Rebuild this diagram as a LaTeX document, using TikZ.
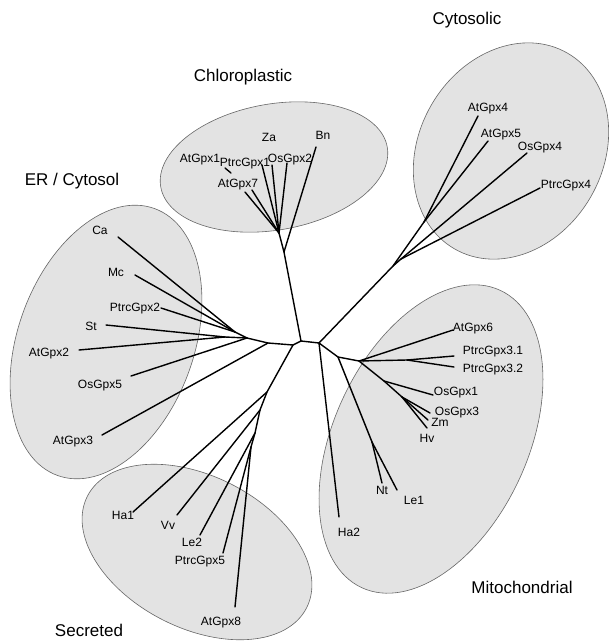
\documentclass[tikz,border=0pt]{standalone}
\usepackage{fontspec}
\setmainfont{Liberation Sans}
\begin{document}
\begin{tikzpicture}[x=1pt,y=-1pt,
  grp/.style={draw=black!60, line width=0.6pt, fill=black!11},
  br/.style={line width=1.4pt, line cap=round, line join=round},
  lbl/.style={font=\fontsize{12}{13}\selectfont, inner sep=0pt, anchor=base, yshift=-4.3pt},
  hdr/.style={font=\fontsize{17}{18}\selectfont, inner sep=0pt, anchor=base, yshift=-6.2pt}]
\useasboundingbox (0,0) rectangle (610,641);
% group ellipses
\path[grp, rotate around={10:(274,167)}] (274,167) ellipse [x radius=115pt, y radius=63pt];
\path[grp, rotate around={60:(511,151)}] (511,151) ellipse [x radius=113pt, y radius=92pt];
\path[grp, rotate around={70:(106,342)}] (106,342) ellipse [x radius=142pt, y radius=88pt];
\path[grp, rotate around={65:(431,439)}] (431,439) ellipse [x radius=164pt, y radius=97pt];
\path[grp, rotate around={-27:(197,552)}] (197,552) ellipse [x radius=123pt, y radius=76pt];
% internal nodes
\coordinate (C1) at (301,341);
\coordinate (C2) at (319,343);
\coordinate (N1) at (293,345);
\coordinate (N2) at (268,343);
\coordinate (E0) at (247,338);
\coordinate (E1) at (235,332);
\coordinate (E2) at (225,337);
\coordinate (Ch0) at (284,252);
\coordinate (ChL) at (279,233);
\coordinate (cy0) at (393,266);
\coordinate (cy1) at (424,222);
\coordinate (cy2) at (401,259);
\coordinate (M0) at (338,357);
\coordinate (M1) at (359,361);
\coordinate (M2) at (407,360);
\coordinate (M3) at (384,381);
\coordinate (M4) at (402,397);
\coordinate (NL) at (372,442);
\coordinate (S0) at (267,392);
\coordinate (S1) at (260,410);
\coordinate (S2) at (255,433);
\coordinate (S3) at (251,447);
% leaf ends
\coordinate (at7a) at (245,192);
\coordinate (at7b) at (252,190);
\coordinate (ptrc1) at (262,165);
\coordinate (za) at (272,165);
\coordinate (os2) at (287,163);
\coordinate (bn) at (316,147);
\coordinate (t1) at (225,168);
\coordinate (t2) at (231,173);
\coordinate (at4) at (478,116);
\coordinate (at5) at (488,141);
\coordinate (os4) at (527,153);
\coordinate (ptrc4) at (540,188);
\coordinate (ca) at (118,237);
\coordinate (mc) at (135,275);
\coordinate (ptrc2) at (161,308);
\coordinate (st) at (106,325);
\coordinate (at2) at (79,350);
\coordinate (os5) at (131,376);
\coordinate (at3) at (102,435);
\coordinate (ha2) at (339,517);
\coordinate (nt) at (382,483);
\coordinate (le1) at (397,490);
\coordinate (at6) at (453,330);
\coordinate (p31) at (454,356);
\coordinate (p32) at (454,367);
\coordinate (os1) at (433,395);
\coordinate (os3) at (430,413);
\coordinate (zm) at (428,420);
\coordinate (hv) at (427,428);
\coordinate (ha1) at (133,512);
\coordinate (vv) at (177,515);
\coordinate (le2) at (200,535);
\coordinate (ptrc5) at (223,553);
\coordinate (at8) at (235,607);
% branches
\draw[br] (C1) -- (C2);
\draw[br] (C1) -- (N1) -- (N2) -- (E0);
\draw[br] (E0) -- (E1); \draw[br] (E0) -- (E2);
\draw[br] (E1) -- (ca); \draw[br] (E1) -- (mc); \draw[br] (E1) -- (ptrc2);
\draw[br] (E2) -- (st); \draw[br] (E2) -- (at2);
\draw[br] (E0) -- (os5); \draw[br] (N2) -- (at3);
\draw[br] (N1) -- (S0) -- (S1) -- (S2) -- (S3);
\draw[br] (S0) -- (ha1); \draw[br] (S1) -- (vv); \draw[br] (S2) -- (le2);
\draw[br] (S3) -- (ptrc5); \draw[br] (S3) -- (at8);
\draw[br] (C1) -- (Ch0) -- (ChL);
\draw[br] (Ch0) -- (bn);
\draw[br] (ChL) -- (at7a); \draw[br] (ChL) -- (at7b); \draw[br] (ChL) -- (ptrc1);
\draw[br] (ChL) -- (za); \draw[br] (ChL) -- (os2);
\draw[br] (t1) -- (t2);
\draw[br] (C2) -- (cy0) -- (cy1);
\draw[br] (cy1) -- (at4); \draw[br] (cy1) -- (at5);
\draw[br] (cy0) -- (cy2); \draw[br] (cy2) -- (os4); \draw[br] (cy2) -- (ptrc4);
\draw[br] (C2) -- (ha2);
\draw[br] (C2) -- (M0) -- (M1);
\draw[br] (M0) -- (NL); \draw[br] (NL) -- (nt); \draw[br] (NL) -- (le1);
\draw[br] (M1) -- (at6); \draw[br] (M1) -- (M2);
\draw[br] (M2) -- (p31); \draw[br] (M2) -- (p32);
\draw[br] (M1) -- (M3) -- (M4); \draw[br] (M3) -- (os1);
\draw[br] (M4) -- (os3); \draw[br] (M4) -- (zm); \draw[br] (M4) -- (hv);
% headers
\node[hdr] (hChl) at (243,75) {Chloroplastic};
\node[hdr] (hCyt) at (467,18) {Cytosolic};
\node[hdr] (hER) at (72,179) {ER / Cytosol};
\node[hdr] (hMit) at (522,587) {Mitochondrial};
\node[hdr] (hSec) at (89,630) {Secreted};
% labels
\node[lbl] (lAtGpx1) at (200,158) {AtGpx1};
\node[lbl] (lPtrcGpx1) at (245,162) {PtrcGpx1};
\node[lbl] (lOsGpx2) at (290,158) {OsGpx2};
\node[lbl] (lZa) at (269,137) {Za};
\node[lbl] (lBn) at (323,135) {Bn};
\node[lbl] (lAtGpx7) at (238,183) {AtGpx7};
\node[lbl] (lAtGpx4) at (488,107) {AtGpx4};
\node[lbl] (lAtGpx5) at (501,133) {AtGpx5};
\node[lbl] (lOsGpx4) at (540,146) {OsGpx4};
\node[lbl] (lPtrcGpx4) at (566,184) {PtrcGpx4};
\node[lbl] (lCa) at (100,230) {Ca};
\node[lbl] (lMc) at (116,272) {Mc};
\node[lbl] (lPtrcGpx2) at (135,307) {PtrcGpx2};
\node[lbl] (lSt) at (91,326) {St};
\node[lbl] (lAtGpx2) at (49,352) {AtGpx2};
\node[lbl] (lOsGpx5) at (100,384) {OsGpx5};
\node[lbl] (lAtGpx3) at (73,440) {AtGpx3};
\node[lbl] (lAtGpx6) at (473,327) {AtGpx6};
\node[lbl] (lPtrcGpx31) at (493,350) {PtrcGpx3.1};
\node[lbl] (lPtrcGpx32) at (493,368) {PtrcGpx3.2};
\node[lbl] (lOsGpx1) at (456,391) {OsGpx1};
\node[lbl] (lOsGpx3) at (457,411) {OsGpx3};
\node[lbl] (lZm) at (440,422) {Zm};
\node[lbl] (lHv) at (427,438) {Hv};
\node[lbl] (lNt) at (382,490) {Nt};
\node[lbl] (lLe1) at (414,500) {Le1};
\node[lbl] (lHa2) at (349,532) {Ha2};
\node[lbl] (lHa1) at (123,515) {Ha1};
\node[lbl] (lVv) at (168,525) {Vv};
\node[lbl] (lLe2) at (192,542) {Le2};
\node[lbl] (lPtrcGpx5) at (200,560) {PtrcGpx5};
\node[lbl] (lAtGpx8) at (221,621) {AtGpx8};
\end{tikzpicture}
\end{document}
